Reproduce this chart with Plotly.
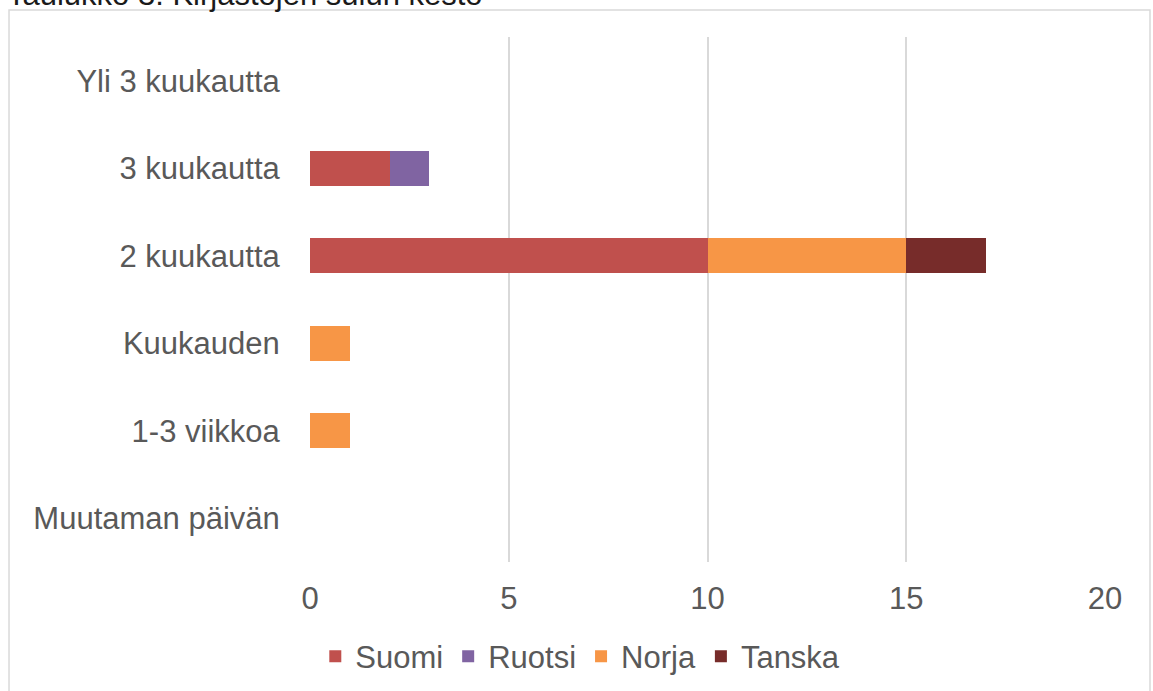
import plotly.graph_objects as go

# kirjastojen sulun kesto, maittain
kesto = ['Muutaman päivän', '1-3 viikkoa', 'Kuukauden', '2 kuukautta', '3 kuukautta', 'Yli 3 kuukautta']
suomi = [0, 0, 0, 10, 2, 0]
ruotsi = [0, 0, 0, 0, 1, 0]
norja = [0, 1, 1, 5, 0, 0]
tanska = [0, 0, 0, 2, 0, 0]
x_ticks = [0, 5, 10, 15, 20]

sarjat = [('Suomi', suomi, '#c0504d'), ('Ruotsi', ruotsi, '#8064a2'),
          ('Norja', norja, '#f79646'), ('Tanska', tanska, '#772c2a')]

fig = go.Figure()
for nimi, arvot, vari in sarjat:
    fig.add_trace(go.Bar(y=kesto, x=arvot, name=nimi, orientation='h',
                         marker=dict(color=vari, line=dict(width=0))))

txt = '#595959'
fig.update_layout(
    width=1153, height=691, barmode='stack', bargap=0.6,
    paper_bgcolor='white', plot_bgcolor='white',
    margin=dict(l=310, r=48, t=37, b=129, autoexpand=False),
    font=dict(family='Liberation Sans, Arial', size=31, color=txt),
    legend=dict(orientation='h', x=0.34, xanchor='center', y=-0.18, yanchor='middle',
                font=dict(size=31, color=txt), itemwidth=30, traceorder='normal'),
    showlegend=True,
)
fig.update_xaxes(range=[0, 20], tickvals=x_ticks, showgrid=True, gridcolor='#d9d9d9', gridwidth=2,
                 zeroline=False, showline=False, ticks='outside', ticklen=9, tickcolor='rgba(0,0,0,0)',
                 automargin=False)
fig.update_yaxes(categoryorder='array', categoryarray=kesto, showgrid=False, zeroline=False,
                 showline=False, ticks='outside', ticklen=23, tickcolor='rgba(0,0,0,0)',
                 automargin=False)

# reunus ja leikkautunut otsikko
fig.add_shape(type='rect', xref='paper', yref='paper', x0=-0.3786, x1=1.0566, y0=-0.30, y1=1.0514,
              line=dict(color='#d9d9d9', width=1.5), fillcolor='rgba(0,0,0,0)', layer='below')
fig.add_annotation(text='Taulukko 3: Kirjastojen sulun kesto', xref='paper', yref='paper',
                   x=-0.384, y=1.043, xanchor='left', yanchor='bottom', showarrow=False,
                   font=dict(size=31, color='#1a1a1a'))

# sivun oletusmarginaali pois, jotta kuva alkaa kulmasta
fig.write_html('out.html', config={'displayModeBar': False},
               post_script="document.body.style.margin='0';")
